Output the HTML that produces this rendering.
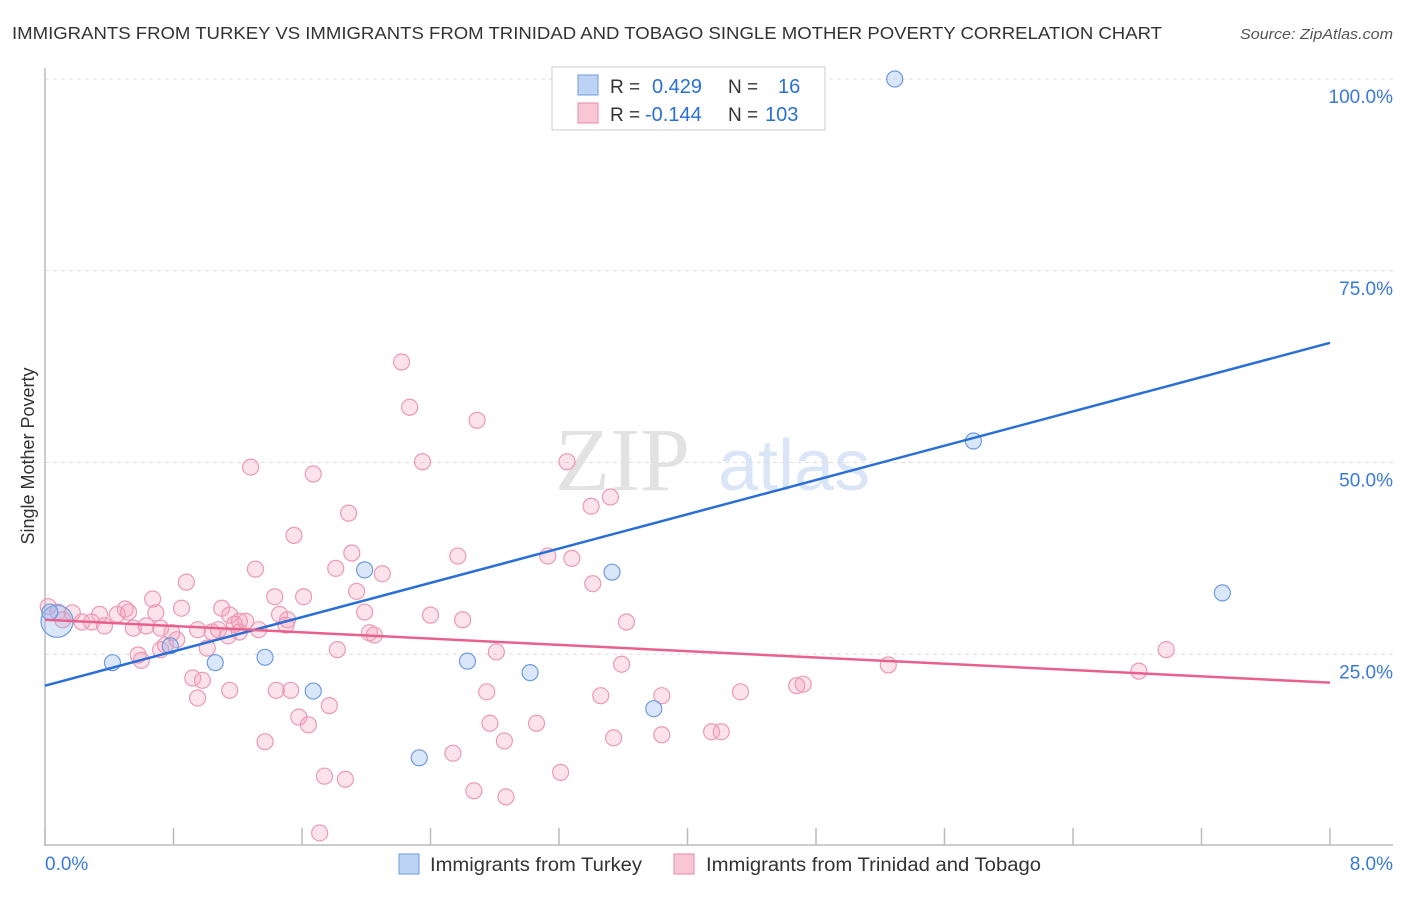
<!DOCTYPE html>
<html><head><meta charset="utf-8"><style>
body{margin:0;background:#fff;font-family:"Liberation Sans",sans-serif}
</style></head><body>
<svg id="chart" width="1406" height="892" xmlns="http://www.w3.org/2000/svg" font-family="Liberation Sans, sans-serif">
<text x="12" y="39" font-size="17.5" fill="#333" textLength="1150" lengthAdjust="spacingAndGlyphs">IMMIGRANTS FROM TURKEY VS IMMIGRANTS FROM TRINIDAD AND TOBAGO SINGLE MOTHER POVERTY CORRELATION CHART</text>
<text x="1240" y="39" font-size="15" fill="#555" font-style="italic" textLength="153" lengthAdjust="spacingAndGlyphs">Source: ZipAtlas.com</text>
<text transform="translate(34,456) rotate(-90)" font-size="18" fill="#333" text-anchor="middle">Single Mother Poverty</text>
<g opacity="0.18"><text x="555" y="490" font-size="90" font-family="Liberation Serif, serif" fill="#666">ZIP</text><text x="718" y="490" font-size="72" fill="#3a7ad8">atlas</text></g>
<g id="grid"></g><g id="axes"></g><g id="marks"></g>
<g>
<rect x="552" y="67" width="273" height="63" fill="#fff" stroke="#ccc"/>
<rect x="578" y="75" width="20" height="20" fill="#bcd3f5" stroke="#6f9be0"/>
<rect x="578" y="103" width="20" height="20" fill="#f9c6d6" stroke="#e88aa8"/>
<text x="610" y="93" font-size="19" fill="#333">R = </text><text x="652" y="93" font-size="20" fill="#2a6fd6">0.429</text>
<text x="728" y="93" font-size="19" fill="#333">N = </text><text x="778" y="93" font-size="20" fill="#2a6fd6">16</text>
<text x="610" y="121" font-size="19" fill="#333">R = </text><text x="645" y="121" font-size="20" fill="#2a6fd6">-0.144</text>
<text x="728" y="121" font-size="19" fill="#333">N = </text><text x="765" y="121" font-size="20" fill="#2a6fd6">103</text>
</g>
<g>
<rect x="399" y="854" width="20" height="20" fill="#bcd3f5" stroke="#6f9be0"/>
<text x="430" y="871" font-size="19" fill="#333" textLength="212" lengthAdjust="spacingAndGlyphs">Immigrants from Turkey</text>
<rect x="674" y="854" width="20" height="20" fill="#f9c6d6" stroke="#e88aa8"/>
<text x="706" y="871" font-size="19" fill="#333" textLength="335" lengthAdjust="spacingAndGlyphs">Immigrants from Trinidad and Tobago</text>
</g>
</svg>
<script>
const xTicks=[0,0.8,1.6,2.4,3.2,4,4.8,5.6,6.4,7.2,8];
const xTickLabels=["0.0%","8.0%"];
const yTicks=[25,50,75,100];
const yTickLabels=["25.0%","50.0%","75.0%","100.0%"];
const blueX=[0.075,0.42,0.78,1.06,1.37,1.67,1.99,2.33,2.63,3.02,3.53,3.79,5.29,5.78,7.33,0.03];
const blueY=[29.3,23.9,26.1,23.9,24.6,20.2,36.0,11.5,24.1,22.6,35.7,17.9,100,52.8,33.0,30.5];
const pinkX=[0.02,0.08,0.11,0.17,0.23,0.29,0.34,0.37,0.45,0.50,0.52,0.55,0.60,0.58,0.63,0.67,0.69,0.72,0.75,0.79,0.82,0.85,0.88,0.92,0.95,0.98,1.01,1.04,1.08,1.10,1.14,1.15,1.18,1.21,1.25,1.28,1.31,1.33,1.37,1.43,1.46,1.50,1.53,1.55,1.58,1.61,1.64,1.67,1.74,1.77,1.81,1.87,1.89,1.91,1.94,1.99,2.02,2.05,2.10,2.22,2.27,2.35,2.40,2.54,2.57,2.60,2.67,2.69,2.75,2.77,2.81,2.86,2.87,3.06,3.13,3.21,3.25,3.28,3.40,3.41,3.46,3.52,3.54,3.59,3.62,3.84,3.84,4.15,4.21,4.33,4.68,4.72,5.25,6.81,6.98,1.71,1.82,1.51,0.72,0.95,1.21,1.44,1.15];
const pinkY=[31.2,30.5,29.5,30.4,29.2,29.2,30.2,28.7,30.2,30.9,30.5,28.4,24.2,24.9,28.7,32.2,30.4,28.4,26.2,27.8,26.9,31.0,34.4,21.9,19.3,21.6,25.8,27.9,28.2,31.0,27.4,30.1,28.9,29.3,29.3,49.4,36.1,28.2,13.6,32.5,30.2,28.8,20.3,40.5,16.8,32.5,15.8,48.5,9.1,18.3,36.2,8.7,43.4,38.2,33.2,30.5,27.8,27.5,35.5,63.1,57.2,50.1,30.1,12.1,37.8,29.5,7.2,55.5,20.1,16.0,25.3,13.7,6.4,16.0,37.8,9.6,50.1,37.5,44.3,34.2,19.6,45.5,14.1,23.7,29.2,19.6,14.5,14.9,14.9,20.1,20.9,21.1,23.6,22.8,25.6,1.7,25.6,29.5,25.6,28.2,27.9,20.3,20.3];
const blueTrend=[20.9,65.6];
const pinkTrend=[29.5,21.3];
const NS="http://www.w3.org/2000/svg";
const X=v=>45+v/8*1285, Y=v=>846-v/100*767;
function mk(t,a,p){const e=document.createElementNS(NS,t);for(const k in a)e.setAttribute(k,a[k]);p.appendChild(e);return e;}
const grid=document.getElementById('grid'),axes=document.getElementById('axes'),marks=document.getElementById('marks');
yTicks.forEach((v,i)=>{
  const l=mk('line',{x1:45,x2:1393,y1:Y(v),y2:Y(v),stroke:'#ddd','stroke-dasharray':'4,4'},grid);
  
  
  const t=mk('text',{x:1393,y:Y(v)+24,'font-size':19,fill:'#3a7ad8','text-anchor':'end'},axes);
  t.textContent=yTickLabels[i];
  
  
});
mk('line',{x1:45,x2:45,y1:68,y2:846,stroke:'#bbb','stroke-width':1.5},axes);
mk('line',{x1:45,x2:1393,y1:845,y2:845,stroke:'#bbb','stroke-width':1.5},axes);
xTicks.forEach(v=>{const t=mk('line',{x1:X(v),x2:X(v),y1:828,y2:845,stroke:'#bbb','stroke-width':1.5},axes);
  
  });
const xl0=mk('text',{x:45,y:870,'font-size':19,fill:'#3a7ad8'},axes);xl0.textContent=xTickLabels[0];


const xl1=mk('text',{x:1393,y:870,'font-size':19,fill:'#3a7ad8','text-anchor':'end'},axes);xl1.textContent=xTickLabels[1];


pinkX.forEach((x,i)=>{const c=mk('circle',{cx:X(x),cy:Y(pinkY[i]),r:8,fill:'rgba(244,160,185,0.3)',stroke:'#eb9ab4','stroke-width':1.2},marks);
  
  });
blueX.forEach((x,i)=>{const c=mk('circle',{cx:X(x),cy:Y(blueY[i]),r:i==0?16:8,fill:'rgba(150,185,240,0.35)',stroke:'#6f9be0','stroke-width':1.2},marks);
  
  });
const bl=mk('line',{x1:X(0),y1:Y(blueTrend[0]),x2:X(8),y2:Y(blueTrend[1]),stroke:'#2a6fd6','stroke-width':2.5},marks);


const pl=mk('line',{x1:X(0),y1:Y(pinkTrend[0]),x2:X(8),y2:Y(pinkTrend[1]),stroke:'#e8608c','stroke-width':2.5},marks);


</script>
</body></html>
